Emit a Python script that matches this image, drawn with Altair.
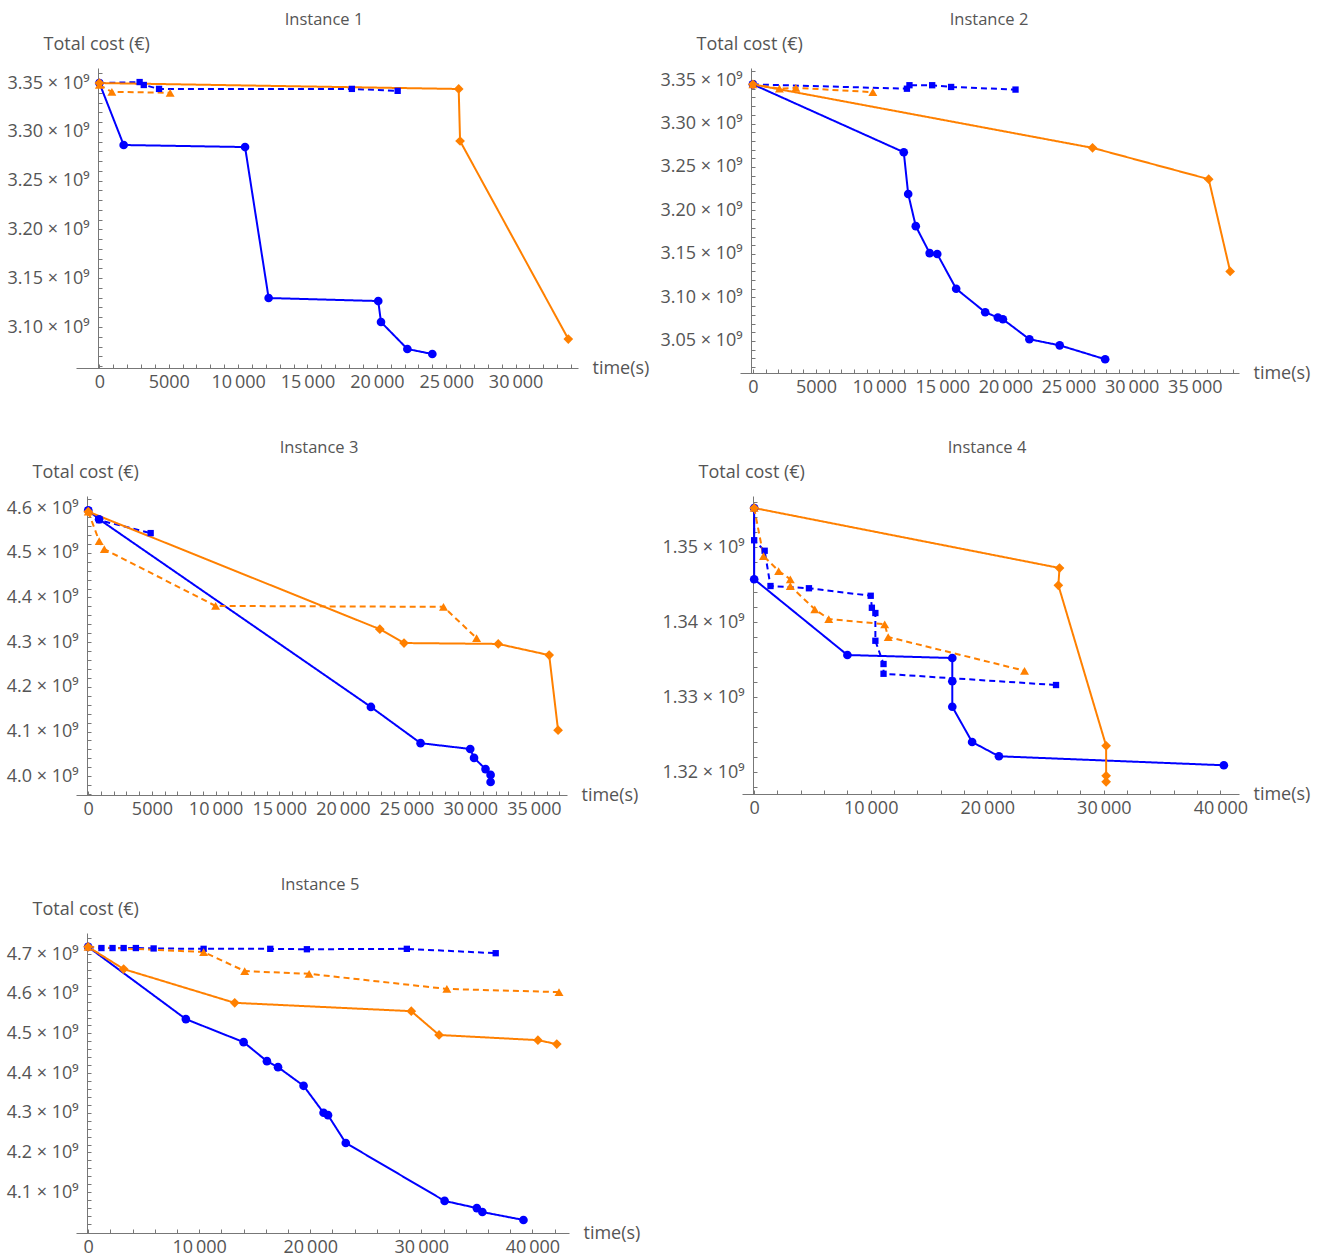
import altair as alt
import pandas as pd

# ---------------- data (time in s, total cost in units of 10^9 EUR) ----------------
SERIES = ["S1", "S2", "S3", "S4"]
COLORS = ["#0000FF", "#0000FF", "#FF8000", "#FF8000"]
DASHES = [[1, 0], [6, 4], [1, 0], [6, 4]]
SHAPES = ["circle", "square", "diamond", "triangle-up"]
SIZES = [75, 40, 95, 80]

# Instance 1
i1_s1_t = [0, 1750, 10500, 12200, 20100, 20300, 22200, 24000]
i1_s1_v = [3.350, 3.2865, 3.2844, 3.1297, 3.1266, 3.1051, 3.0775, 3.0723]
i1_s2_t = [0, 2900, 3200, 4300, 18200, 21500]
i1_s2_v = [3.350, 3.351, 3.348, 3.344, 3.344, 3.342]
i1_s3_t = [0, 25900, 26000, 33800]
i1_s3_v = [3.350, 3.3439, 3.2906, 3.0877]
i1_s4_t = [0, 900, 5100]
i1_s4_v = [3.348, 3.341, 3.340]

# Instance 2
i2_s1_t = [0, 11950, 12300, 12900, 14000, 14600, 16100, 18400, 19400, 19800, 21900, 24300, 27900]
i2_s1_v = [3.345, 3.267, 3.219, 3.182, 3.151, 3.150, 3.110, 3.083, 3.077, 3.075, 3.052, 3.045, 3.029]
i2_s2_t = [0, 12200, 12400, 14200, 15700, 20800]
i2_s2_v = [3.345, 3.340, 3.344, 3.344, 3.342, 3.339]
i2_s3_t = [0, 26900, 36100, 37800]
i2_s3_v = [3.345, 3.272, 3.236, 3.130]
i2_s4_t = [0, 2100, 3400, 9500]
i2_s4_v = [3.345, 3.340, 3.341, 3.336]

# Instance 3
i3_s1_t = [0, 850, 22200, 26100, 30000, 30300, 31200, 31600, 31600]
i3_s1_v = [4.595, 4.575, 4.155, 4.074, 4.061, 4.041, 4.016, 4.003, 3.987]
i3_s2_t = [0, 850, 4900]
i3_s2_v = [4.595, 4.573, 4.544]
i3_s3_t = [0, 22900, 24800, 32200, 36200, 36900]
i3_s3_v = [4.592, 4.329, 4.298, 4.296, 4.271, 4.103]
i3_s4_t = [0, 860, 1260, 10000, 27900, 30500]
i3_s4_v = [4.592, 4.526, 4.508, 4.381, 4.379, 4.309]

# Instance 4
i4_s1_t = [0, 0, 8000, 17000, 17000, 17000, 18700, 21000, 40300]
i4_s1_v = [1.3552, 1.3457, 1.3356, 1.3352, 1.3321, 1.3287, 1.3240, 1.3221, 1.3209]
i4_s2_t = [0, 0, 900, 1400, 4700, 10000, 10100, 10400, 10400, 11100, 11100, 25900]
i4_s2_v = [1.3552, 1.3509, 1.3495, 1.3448, 1.3445, 1.3435, 1.3419, 1.3412, 1.3375, 1.3344, 1.3331, 1.3316]
i4_s3_t = [0, 26200, 26100, 30200, 30200, 30200]
i4_s3_v = [1.3552, 1.3472, 1.3449, 1.3235, 1.3195, 1.3187]
i4_s4_t = [0, 800, 2100, 3100, 3100, 5200, 6400, 11200, 11500, 23200]
i4_s4_v = [1.3552, 1.3488, 1.3468, 1.3457, 1.3448, 1.3417, 1.3404, 1.3397, 1.3380, 1.3335]

# Instance 5
i5_s1_t = [0, 8800, 14000, 16100, 17100, 19400, 21200, 21600, 23200, 32100, 35000, 35500, 39200]
i5_s1_v = [4.718, 4.536, 4.478, 4.430, 4.415, 4.368, 4.300, 4.294, 4.224, 4.078, 4.060, 4.050, 4.030]
i5_s2_t = [0, 1200, 2200, 3200, 4300, 5900, 10400, 16400, 19700, 28700, 36700]
i5_s2_v = [4.718, 4.715, 4.715, 4.715, 4.715, 4.714, 4.713, 4.713, 4.712, 4.713, 4.702]
i5_s3_t = [0, 3200, 13200, 29100, 31600, 40500, 42200]
i5_s3_v = [4.718, 4.662, 4.577, 4.556, 4.496, 4.483, 4.473]
i5_s4_t = [0, 10400, 14100, 19900, 32300, 42400]
i5_s4_v = [4.718, 4.705, 4.657, 4.650, 4.612, 4.604]

INSTANCES = {
    1: [(i1_s1_t, i1_s1_v), (i1_s2_t, i1_s2_v), (i1_s3_t, i1_s3_v), (i1_s4_t, i1_s4_v)],
    2: [(i2_s1_t, i2_s1_v), (i2_s2_t, i2_s2_v), (i2_s3_t, i2_s3_v), (i2_s4_t, i2_s4_v)],
    3: [(i3_s1_t, i3_s1_v), (i3_s2_t, i3_s2_v), (i3_s3_t, i3_s3_v), (i3_s4_t, i3_s4_v)],
    4: [(i4_s1_t, i4_s1_v), (i4_s2_t, i4_s2_v), (i4_s3_t, i4_s3_v), (i4_s4_t, i4_s4_v)],
    5: [(i5_s1_t, i5_s1_v), (i5_s2_t, i5_s2_v), (i5_s3_t, i5_s3_v), (i5_s4_t, i5_s4_v)],
}

rows = []
for inst, series in INSTANCES.items():
    for name, (ts, vs) in zip(SERIES, series):
        for k, (t, v) in enumerate(zip(ts, vs)):
            rows.append({"instance": inst, "series": name, "seq": k, "t": t, "v": v})
df = pd.DataFrame(rows)

FONT = "Open Sans"
TXT = "#555555"
AX = "#777777"
THIN = "\u2009"


def xlabel_expr(step):
    return (f"datum.value % {step} === 0 ? (datum.value >= 10000 ? "
            f"replace(format(datum.value, ','), ',', '{THIN}') : format(datum.value, 'd')) : ''")


def ylabel_expr(per, dec):
    return (f"abs(datum.value*{per} - round(datum.value*{per})) < 0.000001 ? "
            f"format(datum.value, '.{dec}f') + ' × 10⁹' : ''")


def panel(inst, w, h, ext, xdom, ydom, xticks, xstep, yticks, yper, ydec, tdx):
    # ext: how far (px) the x axis line reaches left of the y axis, as in the original
    base = alt.Chart(df).transform_filter(alt.datum.instance == inst)
    x = alt.X("t:Q", scale=alt.Scale(domain=xdom, nice=False, zero=False),
              axis=alt.Axis(values=xticks, labelExpr=xlabel_expr(xstep), title="time(s)",
                            titleAngle=0, titleAlign="left", titleBaseline="middle",
                            titleX=w + 14, titleY=0, grid=False, labelOverlap=False,
                            labelFlush=False, tickSize={"expr": "-4"}, labelPadding=9))
    y = alt.Y("v:Q", scale=alt.Scale(domain=ydom, nice=False, zero=False),
              axis=alt.Axis(values=yticks, labelExpr=ylabel_expr(yper, ydec), title="Total cost (€)",
                            titleAngle=0, titleAlign="left", titleBaseline="middle",
                            titleX=-55, titleY=-24, grid=False, labelOverlap=False,
                            labelFlush=False, tickSize={"expr": "-4"}, labelPadding=13,
                            offset={"expr": str(-ext)}))
    color = alt.Color("series:N", scale=alt.Scale(domain=SERIES, range=COLORS), legend=None)
    lines = base.mark_line(strokeWidth=2).encode(
        x=x, y=y, color=color, order="seq:Q",
        strokeDash=alt.StrokeDash("series:N", scale=alt.Scale(domain=SERIES, range=DASHES), legend=None),
    )
    layers = [lines]
    for s, c, shp, sz in zip(SERIES, COLORS, SHAPES, SIZES):
        layers.append(
            base.transform_filter(alt.datum.series == s)
            .mark_point(filled=True, opacity=1, shape=shp, size=sz, color=c)
            .encode(x=x, y=y)
        )
    return alt.layer(*layers).properties(
        width=w, height=h,
        title=alt.TitleParams(f"Instance {inst}", frame="group", anchor="middle", dx=tdx,
                              offset=7, fontSize=16.5, font=FONT, color=TXT, fontWeight="normal"),
    )


p1 = panel(1, 502, 300, 22, [-1686, 34500], [3.058, 3.3654], list(range(0, 34001, 1000)), 5000,
           [round(3.06 + 0.01 * k, 2) for k in range(31)], 20, 2, -3)
p2 = panel(2, 499, 305, 11, [-1021, 38500], [3.0132, 3.3638], list(range(0, 38001, 1000)), 5000,
           [round(3.02 + 0.01 * k, 2) for k in range(35)], 20, 2, -0.5)
p3 = panel(3, 491, 299, 11, [-963, 37600], [3.958, 4.627], list(range(0, 37001, 1000)), 5000,
           [round(3.96 + 0.02 * k, 2) for k in range(34)], 10, 1, -2.5)
p4 = panel(4, 497, 298, 11, [-1044, 41600], [1.31707, 1.3568], list(range(0, 40001, 2000)), 10000,
           [round(1.318 + 0.002 * k, 3) for k in range(20)], 100, 2, -3.5)
p5 = panel(5, 493, 300, 11, [-1091, 43300], [3.9972, 4.7529], list(range(0, 42001, 2000)), 10000,
           [round(4.02 + 0.02 * k, 2) for k in range(37)], 10, 1, -2.5)

row1 = alt.hconcat(p1, p2, spacing=10)
row2 = alt.hconcat(p3, p4, spacing=23)
upper = alt.concat(row1, row2, columns=1, spacing=43, align="none")
chart = alt.concat(upper, p5, columns=1, spacing=58, align="none").configure_view(
    stroke=None
).configure_axis(
    labelFont=FONT, labelFontSize=18, labelColor=TXT, titleFont=FONT, titleFontSize=18,
    titleColor=TXT, titleFontWeight="normal", domainColor=AX, tickColor=AX,
).properties(padding={"left": 6, "top": 11, "right": 5, "bottom": 5})

chart.save("out.html", embed_options={"renderer": "svg", "actions": False})
